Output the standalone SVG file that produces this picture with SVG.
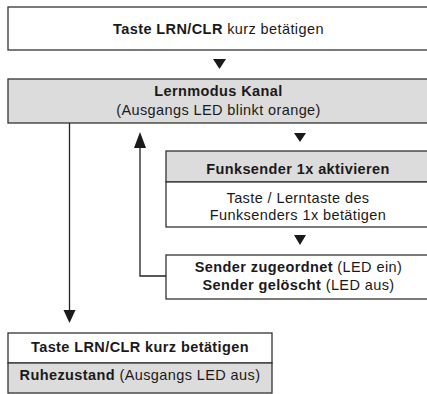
<svg xmlns="http://www.w3.org/2000/svg" width="427" height="394" viewBox="0 0 427 394">
<style>
.box{fill:#fff;stroke:#333;stroke-width:1.3}
.grey{fill:#dcdcdc;stroke:#333;stroke-width:1.3}
text{font-family:"Liberation Sans",Arial,sans-serif;font-size:14.5px;letter-spacing:0.4px;fill:#1a1a1a;text-anchor:middle}
.b{font-weight:bold}
.line{fill:none;stroke:#222;stroke-width:1.3}
.tri{fill:#1a1a1a}
</style>
<g id="n1">
<rect class="box" x="8" y="7" width="422" height="43"/>
<text x="218.5" y="34"><tspan class="b">Taste LRN/CLR</tspan> kurz betätigen</text>
</g>
<g id="n2">
<rect class="grey" x="8" y="79" width="422" height="44"/>
<text class="b" x="218.5" y="96">Lernmodus Kanal</text>
<text x="218.5" y="115">(Ausgangs LED blinkt orange)</text>
</g>
<g id="n3">
<rect class="grey" x="166" y="151" width="264" height="31"/>
<rect class="box" x="166" y="182" width="264" height="45"/>
<text class="b" x="298" y="174">Funksender 1x aktivieren</text>
<text x="298" y="203">Taste / Lerntaste des</text>
<text x="298" y="220">Funksenders 1x betätigen</text>
</g>
<g id="n4">
<rect class="box" x="166" y="255" width="264" height="44"/>
<text x="298.5" y="272"><tspan class="b">Sender zugeordnet</tspan> (LED ein)</text>
<text x="298.5" y="290"><tspan class="b">Sender gelöscht</tspan> (LED aus)</text>
</g>
<g id="n5">
<rect class="box" x="8" y="333" width="264" height="30"/>
<rect class="grey" x="8" y="363" width="264" height="30"/>
<text class="b" x="140" y="352">Taste LRN/CLR kurz betätigen</text>
<text x="140" y="380"><tspan class="b">Ruhezustand</tspan> (Ausgangs LED aus)</text>
</g>
<g id="connectors">
<polygon class="tri" points="213,59 226,59 219.5,69"/>
<polygon class="tri" points="294,133 306,133 300,142"/>
<polygon class="tri" points="294,235 306,235 300,245"/>
<polyline class="line" points="166,276 140,276 140,147"/>
<polygon class="tri" points="134,148 146,148 140,132"/>
<line class="line" x1="69.5" y1="123" x2="69.5" y2="311"/>
<polygon class="tri" points="63.5,310 75.5,310 69.5,323"/>
</g>
</svg>
